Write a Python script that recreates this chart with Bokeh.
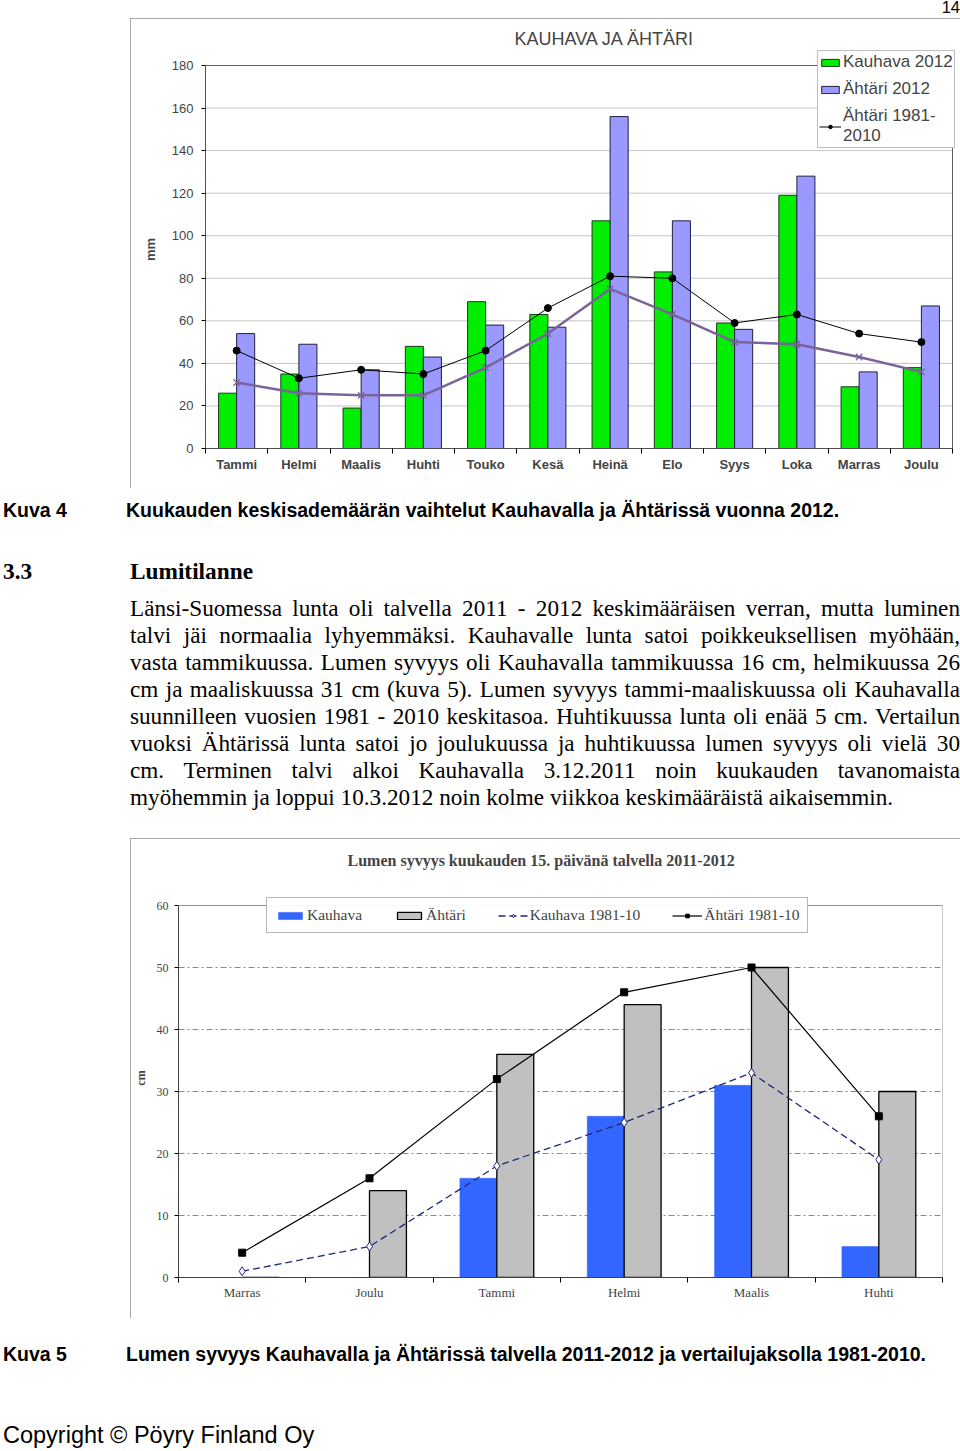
import numpy as np
from bokeh.plotting import figure
from bokeh.models import (ColumnDataSource, FixedTicker, Legend, LegendItem,
                          Div, Spacer, Range1d, Span)
from bokeh.layouts import column, row
from bokeh.embed import file_html
from bokeh.resources import INLINE

# ---------------- data: chart 1 (precipitation, mm) ----------------
months = ["Tammi", "Helmi", "Maalis", "Huhti", "Touko", "Kesä",
          "Heinä", "Elo", "Syys", "Loka", "Marras", "Joulu"]
kauhava_2012 = [26, 35, 19, 48, 69, 63, 107, 83, 59, 119, 29, 38]
ahtari_2012 = [54, 49, 37, 43, 58, 57, 156, 107, 56, 128, 36, 67]
ahtari_1981_2010 = [46, 33, 37, 35, 46, 66, 81, 80, 59, 63, 54, 50]
kauhava_1981_2010 = [31, 26, 25, 25, 38, 54, 75, 63, 50, 49, 43, 36]
rain_ticks = [0, 20, 40, 60, 80, 100, 120, 140, 160, 180]

# ---------------- data: chart 2 (snow depth, cm) ----------------
snow_months = ["Marras", "Joulu", "Tammi", "Helmi", "Maalis", "Huhti"]
snow_kauhava = [0, 0, 16, 26, 31, 5]
snow_ahtari = [0, 14, 36, 44, 50, 30]
snow_kauhava_ref = [1, 5, 18, 25, 33, 19]
snow_ahtari_ref = [4, 16, 32, 46, 50, 26]
snow_ticks = [0, 10, 20, 30, 40, 50, 60]

SANS = "Liberation Sans"
SERIF = "Liberation Serif"

# ======================= chart 1 =======================
n1 = len(months)
ymax1 = rain_ticks[-1]
# frame: left 205, right 960, top 50, bottom 448 (page px); plot area ends at 952 / 65
px_per_mm = (448 - 65) / ymax1
px_per_cat1 = (952 - 205) / n1
xc1 = np.arange(n1) + 0.5
src1 = ColumnDataSource(dict(x=xc1, xg=xc1 - 0.145, xl=xc1 + 0.145,
                             k12=kauhava_2012, a12=ahtari_2012,
                             aref=ahtari_1981_2010, kref=kauhava_1981_2010))

p1 = figure(width=830, height=470,
            x_range=Range1d(0, n1 + 8 / px_per_cat1),
            y_range=Range1d(0, ymax1 + 15 / px_per_mm),
            output_backend="svg", toolbar_location=None,
            min_border_left=75, min_border_right=0, min_border_top=32, min_border_bottom=40,
            title="KAUHAVA JA ÄHTÄRI")
p1.styles = {"outline": "1px solid #8c8c8c", "outline-offset": "-1px"}
p1.title.text_font = SANS
p1.title.text_font_size = "18px"
p1.title.text_font_style = "normal"
p1.title.align = "left"
p1.title.offset = 309
p1.title.standoff = 3
p1.outline_line_color = None
p1.background_fill_color = "white"
p1.border_fill_color = "white"

# grid lines and plot-area border (top at 180, right at last category edge)
p1.segment(x0=0, x1=n1, y0=rain_ticks[1:-1], y1=rain_ticks[1:-1],
           line_color="#8a8a8a", line_dash="1 1", line_width=1)
p1.segment(x0=[0, n1], x1=[n1, n1], y0=[ymax1, 0], y1=[ymax1, ymax1],
           line_color="#606060", line_width=1)

r_g = p1.vbar(x="xg", top="k12", width=0.29, source=src1,
              fill_color="#00ee00", line_color="#1a3a1a", line_width=1)
r_l = p1.vbar(x="xl", top="a12", width=0.29, source=src1,
              fill_color="#9999ff", line_color="#202040", line_width=1)
r_kl = p1.line(x="x", y="kref", source=src1, line_color="#7a6399", line_width=2.5)
p1.scatter(x="x", y="kref", source=src1, marker="x", size=9,
           line_color="#7a6399", line_width=1.3)
r_al = p1.line(x="x", y="aref", source=src1, line_color="black", line_width=1)
r_as = p1.scatter(x="x", y="aref", source=src1, marker="circle", size=7,
                  fill_color="black", line_color="black")

p1.xaxis.ticker = FixedTicker(ticks=list(xc1), minor_ticks=list(range(n1 + 1)))
p1.xaxis.major_label_overrides = {float(x): m for x, m in zip(xc1, months)}
p1.xaxis.bounds = (0, n1)
p1.xaxis.major_tick_out = 0
p1.xaxis.major_tick_in = 0
p1.xaxis.minor_tick_out = 5
p1.xaxis.minor_tick_in = 0
p1.xaxis.major_label_text_font = SANS
p1.xaxis.major_label_text_font_size = "13px"
p1.xaxis.major_label_text_font_style = "bold"
p1.xaxis.major_label_standoff = 3
p1.xaxis.axis_line_color = "#505050"

p1.yaxis.ticker = FixedTicker(ticks=rain_ticks)
p1.yaxis.bounds = (0, ymax1)
p1.yaxis.major_tick_out = 4
p1.yaxis.major_tick_in = 0
p1.yaxis.minor_tick_out = 0
p1.yaxis.major_label_standoff = 8
p1.yaxis.major_label_text_font = SANS
p1.yaxis.major_label_text_font_size = "13px"
p1.yaxis.axis_label = "mm"
p1.yaxis.axis_label_text_font = SANS
p1.yaxis.axis_label_text_font_size = "13px"
p1.yaxis.axis_label_text_font_style = "bold"
p1.yaxis.axis_label_standoff = 11
p1.yaxis.axis_line_color = "#505050"
p1.xgrid.grid_line_color = None
p1.ygrid.grid_line_color = None

leg1 = Legend(items=[LegendItem(label="Kauhava 2012", renderers=[r_g]),
                     LegendItem(label="Ähtäri 2012", renderers=[r_l]),
                     LegendItem(label="Ähtäri 1981-\n2010", renderers=[r_al, r_as])],
              location=(612, 300))
leg1.label_text_font = SANS
leg1.label_text_font_size = "17px"
leg1.label_text_line_height = 1.0
leg1.label_standoff = 2
leg1.glyph_width = 22
leg1.glyph_height = 9
leg1.label_height = 17
leg1.spacing = 7
leg1.padding = 1
leg1.margin = 0
leg1.border_line_color = "#808080"
leg1.border_line_width = 1
leg1.background_fill_alpha = 1
p1.add_layout(leg1)

# ======================= chart 2 =======================
n2 = len(snow_months)
ymax2 = snow_ticks[-1]
# frame: left 176, right 942, top 878, bottom 1277 (page px); plot area top at 905
px_per_cm = (1277 - 905) / ymax2
xc2 = np.arange(n2) + 0.5
src2 = ColumnDataSource(dict(x=xc2, xb=xc2 - 0.145, xg=xc2 + 0.145,
                             kau=snow_kauhava, aht=snow_ahtari,
                             kref=snow_kauhava_ref, aref=snow_ahtari_ref))

p2 = figure(width=830, height=480, x_range=Range1d(0, n2),
            y_range=Range1d(0, ymax2 + 27 / px_per_cm),
            output_backend="svg", toolbar_location=None,
            min_border_left=46, min_border_right=18, min_border_top=40, min_border_bottom=41,
            title="Lumen syvyys kuukauden 15. päivänä talvella 2011-2012")
p2.styles = {"outline": "1px solid #8c8c8c", "outline-offset": "-1px"}
p2.title.text_font = SERIF
p2.title.text_font_size = "16px"
p2.title.text_font_style = "bold"
p2.title.align = "left"
p2.title.offset = 169
p2.title.standoff = 19
p2.outline_line_color = None

p2.add_layout(Span(location=ymax2, dimension="width", line_color="#909090", line_width=1))
p2.segment(x0=[n2], x1=[n2], y0=[0], y1=[ymax2], line_color="#909090", line_width=1)

r_b = p2.vbar(x="xb", top="kau", width=0.29, source=src2,
              fill_color="#3366ff", line_color="#3366ff", line_width=0.5)
r_gr = p2.vbar(x="xg", top="aht", width=0.29, source=src2,
               fill_color="#c0c0c0", line_color="black", line_width=1.3)
r_kl2 = p2.line(x="x", y="kref", source=src2, line_color="#1f2a78",
                line_width=1.3, line_dash="7 4")
r_ks2 = p2.scatter(x="x", y="kref", source=src2, marker="diamond", size=9,
                   fill_color="white", line_color="#1f2a78", line_width=1)
r_al2 = p2.line(x="x", y="aref", source=src2, line_color="black", line_width=1.2)
r_as2 = p2.scatter(x="x", y="aref", source=src2, marker="square", size=7,
                   fill_color="black", line_color="black")

p2.xaxis.ticker = FixedTicker(ticks=list(xc2), minor_ticks=list(range(n2 + 1)))
p2.xaxis.major_label_overrides = {float(x): m for x, m in zip(xc2, snow_months)}
p2.xaxis.major_tick_out = 0
p2.xaxis.major_tick_in = 0
p2.xaxis.minor_tick_out = 5
p2.xaxis.minor_tick_in = 0
p2.xaxis.major_label_text_font = SERIF
p2.xaxis.major_label_text_font_size = "13px"
p2.xaxis.major_label_standoff = 2
p2.xaxis.axis_line_color = "#404040"

p2.yaxis.ticker = FixedTicker(ticks=snow_ticks)
p2.yaxis.bounds = (0, ymax2)
p2.yaxis.major_tick_out = 4
p2.yaxis.major_tick_in = 0
p2.yaxis.minor_tick_out = 0
p2.yaxis.major_label_standoff = 6
p2.yaxis.major_label_text_font = SERIF
p2.yaxis.major_label_text_font_size = "12px"
p2.yaxis.axis_label = "cm"
p2.yaxis.axis_label_text_font = SERIF
p2.yaxis.axis_label_text_font_size = "12px"
p2.yaxis.axis_label_text_font_style = "bold"
p2.yaxis.axis_label_standoff = 6
p2.yaxis.axis_line_color = "#404040"

p2.xgrid.grid_line_color = None
p2.ygrid.grid_line_color = "#8a8a8a"
p2.ygrid.grid_line_dash = "6 3 2 3"

leg2 = Legend(items=[LegendItem(label="Kauhava", renderers=[r_b]),
                     LegendItem(label="Ähtäri", renderers=[r_gr]),
                     LegendItem(label="Kauhava 1981-10", renderers=[r_kl2, r_ks2]),
                     LegendItem(label="Ähtäri 1981-10", renderers=[r_al2, r_as2])],
              location=(88, 344), orientation="horizontal")
leg2.label_text_font = SERIF
leg2.label_text_font_size = "15.5px"
leg2.label_standoff = 2
leg2.glyph_width = 30
leg2.glyph_height = 9
leg2.label_height = 15
leg2.spacing = 32
leg2.padding = 8
leg2.margin = 0
leg2.border_line_color = "#707070"
leg2.border_line_width = 1
p2.add_layout(leg2)

# ======================= page text =======================
top_html = ("<div style=\"position:relative;width:960px;height:18px;"
            "font-family:'Liberation Sans',Arial,sans-serif;\">"
            "<span style=\"position:absolute;right:0px;top:-2px;font-size:16.5px;line-height:18px;\">14</span></div>")

para_lines = [
    "Länsi-Suomessa lunta oli talvella 2011 - 2012 keskimääräisen verran, mutta luminen",
    "talvi jäi normaalia lyhyemmäksi. Kauhavalle lunta satoi poikkeuksellisen myöhään,",
    "vasta tammikuussa. Lumen syvyys oli Kauhavalla tammikuussa 16 cm, helmikuussa 26",
    "cm ja maaliskuussa 31 cm (kuva 5). Lumen syvyys tammi-maaliskuussa oli Kauhavalla",
    "suunnilleen vuosien 1981 - 2010 keskitasoa. Huhtikuussa lunta oli enää 5 cm. Vertailun",
    "vuoksi Ähtärissä lunta satoi jo joulukuussa ja huhtikuussa lumen syvyys oli vielä 30",
    "cm. Terminen talvi alkoi Kauhavalla 3.12.2011 noin kuukauden tavanomaista",
    "myöhemmin ja loppui 10.3.2012 noin kolme viikkoa keskimääräistä aikaisemmin.",
]
para_html = ""
for i, ln in enumerate(para_lines):
    last = i == len(para_lines) - 1
    align = "left" if last else "justify"
    para_html += (f"<div style=\"height:27px;line-height:27px;text-align:{align};"
                  f"text-align-last:{align};\">{ln}</div>")

CAP = ("font-family:'Liberation Sans',Arial;font-weight:bold;font-size:19.5px;"
       "line-height:22px;white-space:nowrap;")
HEAD = ("font-family:'Liberation Serif';font-weight:bold;font-size:23.3px;"
        "line-height:26px;white-space:nowrap;")

mid_html = (
    "<div style=\"position:relative;width:960px;height:350px;color:black;\">"
    f"<div style=\"position:absolute;left:3px;top:11px;{CAP}\">Kuva 4</div>"
    f"<div style=\"position:absolute;left:126px;top:11px;{CAP}\">"
    "Kuukauden keskisademäärän vaihtelut Kauhavalla ja Ähtärissä vuonna 2012.</div>"
    f"<div style=\"position:absolute;left:3px;top:70px;{HEAD}\">3.3</div>"
    f"<div style=\"position:absolute;left:130px;top:70px;{HEAD}\">Lumitilanne</div>"
    "<div style=\"position:absolute;left:130px;top:107px;width:830px;"
    "font-family:'Liberation Serif';font-size:23.2px;\">" + para_html + "</div>"
    "</div>")

bot_html = (
    "<div style=\"position:relative;width:960px;height:133px;color:black;\">"
    f"<div style=\"position:absolute;left:3px;top:25px;{CAP}\">Kuva 5</div>"
    f"<div style=\"position:absolute;left:126px;top:25px;{CAP}\">"
    "Lumen syvyys Kauhavalla ja Ähtärissä talvella 2011-2012 ja vertailujaksolla 1981-2010.</div>"
    "<div style=\"position:absolute;left:3px;top:104px;font-family:'Liberation Sans',Arial;"
    "font-size:23.5px;line-height:26px;white-space:nowrap;\">Copyright © Pöyry Finland Oy</div>"
    "</div>")

d_top = Div(text=top_html, width=960, height=18, margin=0)
d_mid = Div(text=mid_html, width=960, height=350, margin=0)
d_bot = Div(text=bot_html, width=960, height=133, margin=0)

layout = column(
    d_top,
    row(Spacer(width=130, height=470, margin=0), p1, spacing=0),
    d_mid,
    row(Spacer(width=130, height=480, margin=0), p2, spacing=0),
    d_bot,
    spacing=0,
)

open("out.html", "w").write(file_html(layout, INLINE))
